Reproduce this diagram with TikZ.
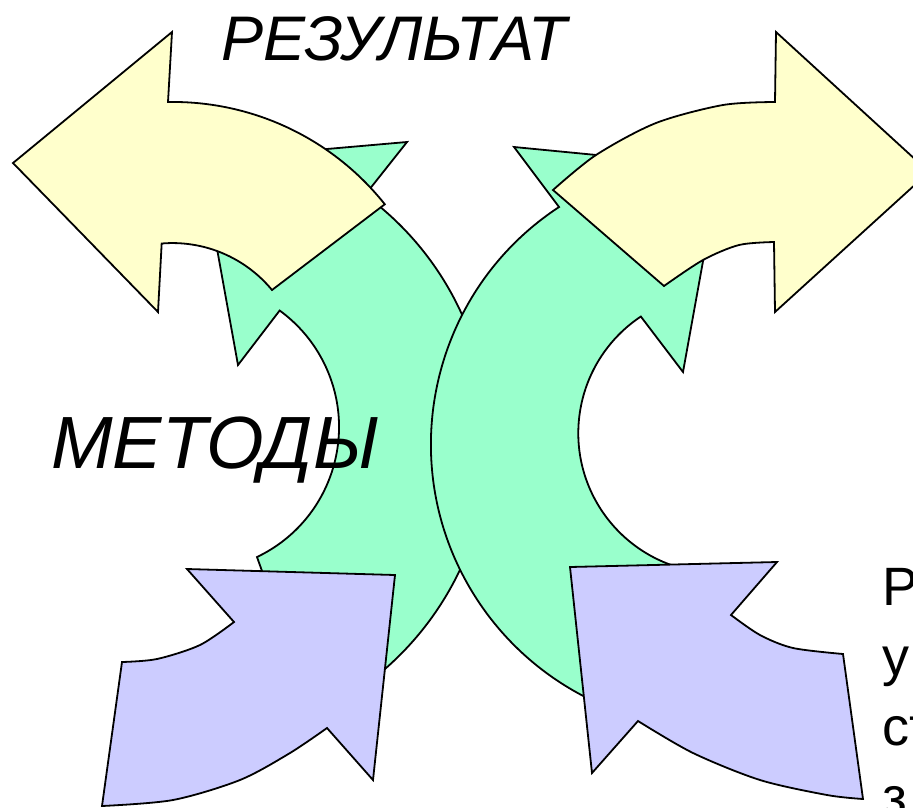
\documentclass[tikz,border=0pt]{standalone}
\usepackage{fontspec}
\newfontfamily\arialfont{Liberation Sans}
\usetikzlibrary{positioning}

\definecolor{mint}{HTML}{99FFCC}
\definecolor{paleyellow}{HTML}{FFFFCC}
\definecolor{lilac}{HTML}{CCCCFF}

\tikzset{
  bentarrow/.style={draw=black, line width=1.8pt, line join=miter},
  mintarrow/.style={bentarrow, fill=mint},
  yellowarrow/.style={bentarrow, fill=paleyellow},
  lilacarrow/.style={bentarrow, fill=lilac},
  bigword/.style={inner sep=0pt, font=\arialfont\itshape\fontsize{#1}{#1}\selectfont},
  sideword/.style={inner sep=0pt, anchor=base west, font=\arialfont\fontsize{54}{70}\selectfont}
}

\begin{document}
\begin{tikzpicture}[x=1pt, y=-1pt]
                \useasboundingbox (0,0) rectangle (913,807);
                % green arrows
                \draw[mintarrow] (201,160) -- (407,142) -- (365,195)
                  arc[start angle=-53.7, end angle=65, radius=304]
                  -- (257,557) arc[start angle=64.5, end angle=-54, radius=144] -- (238,365) -- cycle;
                \draw[mintarrow] (720,167) -- (514,147) -- (559,207)
                  arc[start angle=236.7, end angle=115, radius=284]
                  -- (694,571) arc[start angle=100, end angle=236.4, radius=140] -- (683,372) -- cycle;
                % yellow arrows
                \draw[yellowarrow] (13,163) -- (172,32) -- (168,102)
                  arc[start angle=-91, end angle=-38.5, radius=271] -- (272,290)
                  arc[start angle=-39.5, end angle=-94.8, radius=129] -- (158,312) -- cycle;
                \draw[yellowarrow] (929,172) -- (776,32) -- (775,102)
                  -- plot[smooth] coordinates {(775,102) (723,105) (656,123) (596,155) (553,190)}
                  -- (664,286) -- plot[smooth] coordinates {(664,286) (703,260) (739,245) (774,242)}
                  -- (775,312) -- cycle;
                % lilac arrows
                \draw[lilacarrow] (395,575) -- (373,780) -- (327,728)
                  -- plot[smooth] coordinates {(327,728) (290,753) (240,780) (173,800) (102,806)}
                  -- (122,662) -- plot[smooth] coordinates {(122,662) (157,659) (200,645) (234,622)}
                  -- (187,569) -- cycle;
                \draw[lilacarrow] (570,567) -- (777,562) -- (731,615)
                  -- plot[smooth] coordinates {(731,615) (760,635) (793,648) (843,654)}
                  -- (863,799) -- plot[smooth] coordinates {(863,799) (827,795) (760,780) (693,753) (638,721)}
                  -- (592,773) -- cycle;
                % words
                \node[bigword=63, anchor=base] (result) at (394,60) {РЕЗУЛЬТАТ};
                \node[bigword=74, anchor=base] (methods) at (215,468) {МЕТОДЫ};
                \node[sideword] (line1) at (882.5,605) {Р};
                \node[sideword] (line2) at (882.5,675) {у};
                \node[sideword] (line3) at (882.5,745) {ст};
                \node[sideword] (line4) at (882.5,815) {з};

            \end{tikzpicture}
\end{document}
